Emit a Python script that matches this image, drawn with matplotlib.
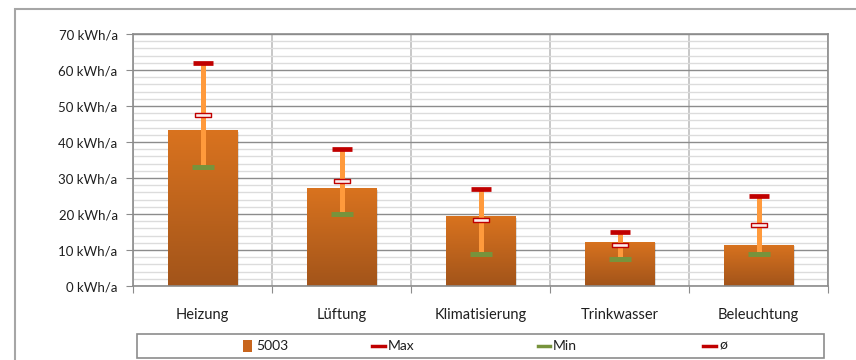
import numpy as np
import matplotlib.pyplot as plt
from matplotlib.patches import Rectangle
from matplotlib.lines import Line2D
from matplotlib.path import Path

plt.rcParams['font.family'] = ['Lato', 'DejaVu Sans']

# Energiekennwerte je Gewerk
kategorien = ['Heizung', 'Lüftung', 'Klimatisierung', 'Trinkwasser', 'Beleuchtung']
wert_5003 = [43.2, 27.2, 19.4, 12.3, 11.4]
wert_max = [62.0, 38.0, 27.0, 15.0, 25.0]
wert_mittel = [47.4, 29.2, 18.2, 11.3, 17.0]
wert_min = [33.0, 20.0, 9.0, 7.5, 9.0]
y_ticks = [0, 10, 20, 30, 40, 50, 60, 70]

W, H = 856, 360
fig = plt.figure(figsize=(W / 100, H / 100), dpi=100)


def fx(x):
    return x / W


def fy(y):
    return 1 - y / H


ax = fig.add_axes([fx(133), fy(286), fx(828) - fx(133), fy(34) - fy(286)])
text_col = '#1f1f1f'

x = np.arange(len(kategorien))
ax.set_xlim(-0.5, len(kategorien) - 0.5)
ax.set_ylim(0, 70)

# Gitter
ax.set_yticks(y_ticks)
ax.set_yticklabels([f'{v} kWh/a' for v in y_ticks], fontsize=9.5, color=text_col)
ax.set_yticks(np.arange(0, 70, 2), minor=True)
ax.grid(axis='y', which='minor', color='#dcdcdc', lw=1.0)
ax.grid(axis='y', which='major', color='#8c8c8c', lw=1.0)
ax.set_xticks(np.arange(-0.5, len(kategorien)))
ax.set_xticklabels([])
ax.set_xticks(x, minor=True)
ax.set_xticklabels(kategorien, minor=True, fontsize=10.5, color=text_col)
ax.tick_params(axis='x', which='minor', length=0, pad=16)
ax.tick_params(axis='x', which='major', length=5, color='#8c8c8c', direction='out')
ax.tick_params(axis='y', which='major', length=5, color='#8c8c8c', pad=6)
ax.tick_params(axis='y', which='minor', length=0)
ax.grid(axis='x', which='major', color='#bfbfbf', lw=1.2)
ax.set_axisbelow(True)
for s in ax.spines.values():
    s.set_color('#8c8c8c')
    s.set_linewidth(1.2)

# Balken mit Farbverlauf
bars = ax.bar(x, wert_5003, width=0.5, color='none', zorder=2)
verlauf = np.linspace(0, 1, 256).reshape(-1, 1)
cmap = plt.matplotlib.colors.LinearSegmentedColormap.from_list(
    'orange', ['#a2541a', '#d9731f'])
for b in bars:
    x0, w, h = b.get_x(), b.get_width(), b.get_height()
    # leichter Schatten
    ax.add_patch(Rectangle((x0 + 0.015, -0.4), w, h, color='#000000',
                           alpha=0.12, lw=0, zorder=1.5))
    im = ax.imshow(verlauf, cmap=cmap, aspect='auto', origin='lower',
                   extent=(x0, x0 + w, 0, h), zorder=2)
    im.set_clip_path(b)
ax.set_xlim(-0.5, len(kategorien) - 0.5)
ax.set_ylim(0, 70)

# Spannweite Min bis Max
ax.vlines(x, wert_min, wert_max, color='#ff9a3c', lw=3.6, zorder=3)
ax.plot(x, wert_max, ls='none', marker='_', ms=15, mew=3.4,
        color='#c00000', zorder=4)
ax.plot(x, wert_min, ls='none', marker='_', ms=16, mew=3.6,
        color='#77933c', zorder=4)
rechteck = Path([(-1, -0.26), (1, -0.26), (1, 0.26), (-1, 0.26), (-1, -0.26)],
                [Path.MOVETO, Path.LINETO, Path.LINETO, Path.LINETO, Path.CLOSEPOLY])
ax.plot(x, wert_mittel, ls='none', marker=rechteck, ms=12, mew=1.0,
        mec='#c00000', mfc='#fbeeee', zorder=4)

# Rahmen um das Diagramm
fig.add_artist(Rectangle((fx(15), fy(380)), 1.0, fy(9) - fy(380),
                         transform=fig.transFigure, fill=False,
                         ec='#a6a6a6', lw=1.5))

# Legende
fig.add_artist(Rectangle((fx(137), fy(358)), fx(824) - fx(137), fy(334) - fy(358),
                         transform=fig.transFigure, fill=False,
                         ec='#8c8c8c', lw=1.2))
ly = fy(346)
fig.add_artist(Rectangle((fx(243), fy(352)), fx(252) - fx(243), fy(340) - fy(352),
                         transform=fig.transFigure, color='#c8651d', lw=0))
fig.text(fx(256), ly, '5003', fontsize=10, color=text_col, va='center')
fig.add_artist(Line2D([fx(372), fx(385)], [ly, ly], transform=fig.transFigure,
                      color='#c00000', lw=2.5))
fig.text(fx(388), ly, 'Max', fontsize=10, color=text_col, va='center')
fig.add_artist(Line2D([fx(538), fx(550)], [ly, ly], transform=fig.transFigure,
                      color='#77933c', lw=2.5))
fig.text(fx(553), ly, 'Min', fontsize=10, color=text_col, va='center')
fig.add_artist(Line2D([fx(703), fx(716)], [ly, ly], transform=fig.transFigure,
                      color='#c00000', lw=2.5))
fig.text(fx(719), ly, 'ø', fontsize=10, color=text_col, va='center')

fig.savefig('out.png', dpi=100, facecolor='white')
